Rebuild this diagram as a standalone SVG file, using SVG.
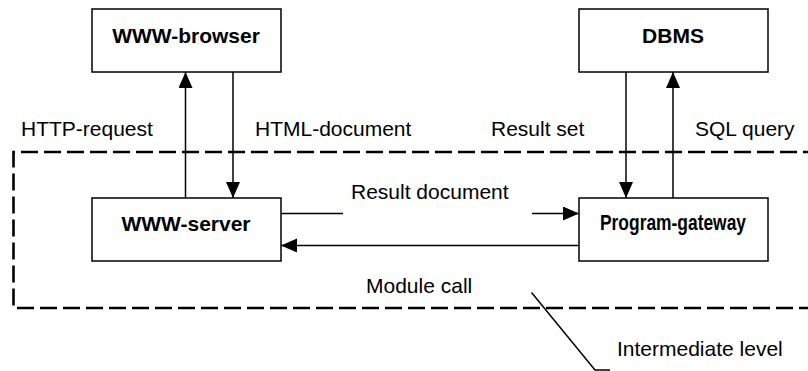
<svg xmlns="http://www.w3.org/2000/svg" width="808" height="371" viewBox="0 0 808 371">
<style>
.box{fill:#fff;stroke:#000;stroke-width:1.5}
.t{font-family:"Liberation Sans",Arial,sans-serif;font-size:21px;fill:#000}
.b{font-weight:bold;text-anchor:middle}
.ln{stroke:#000;stroke-width:1.5;fill:none}
</style>
<defs>
<marker id="ah" markerUnits="userSpaceOnUse" markerWidth="18" markerHeight="16" refX="16" refY="7" orient="auto">
<path d="M0,0 L16,7 L0,14 Z" fill="#000"/>
</marker>
</defs>
<g id="level">
<path d="M820,152 H13.5 V308 H820" fill="none" stroke="#000" stroke-width="2.6" stroke-dasharray="17 6"/>
</g>
<g id="browser"><rect class="box" x="92" y="9" width="189" height="63"/><text class="t b" x="186" y="43">WWW-browser</text></g>
<g id="dbms"><rect class="box" x="579" y="9" width="189" height="63"/><text class="t b" x="673" y="43">DBMS</text></g>
<g id="server"><rect class="box" x="92" y="198" width="189" height="63"/><text class="t b" x="186" y="230.5">WWW-server</text></g>
<g id="gateway"><rect class="box" x="579" y="198" width="189" height="63"/><text class="t b" x="673" y="230" style="font-size:22px" textLength="146" lengthAdjust="spacingAndGlyphs">Program-gateway</text></g>
<g id="connectors">
<line class="ln" x1="185.5" y1="198" x2="185.5" y2="72" marker-end="url(#ah)"/>
<line class="ln" x1="233" y1="72" x2="233" y2="198" marker-end="url(#ah)"/>
<line class="ln" x1="626" y1="72" x2="626" y2="198" marker-end="url(#ah)"/>
<line class="ln" x1="673" y1="198" x2="673" y2="72" marker-end="url(#ah)"/>
<line class="ln" x1="281" y1="213.5" x2="343" y2="213.5"/>
<line class="ln" x1="532" y1="213.5" x2="579" y2="213.5" marker-end="url(#ah)"/>
<line class="ln" x1="579" y1="245.5" x2="281" y2="245.5" marker-end="url(#ah)"/>
<polyline class="ln" points="531.5,292.5 595,370 610,370" stroke-width="1.3"/>
</g>
<g id="labels">
<text class="t" x="21" y="136">HTTP-request</text>
<text class="t" x="255" y="136">HTML-document</text>
<text class="t" x="491" y="136">Result set</text>
<text class="t" x="695" y="136">SQL query</text>
<text class="t" x="351" y="199">Result document</text>
<text class="t" x="366" y="292.5">Module call</text>
<text class="t" x="617" y="356">Intermediate level</text>
</g>
</svg>
